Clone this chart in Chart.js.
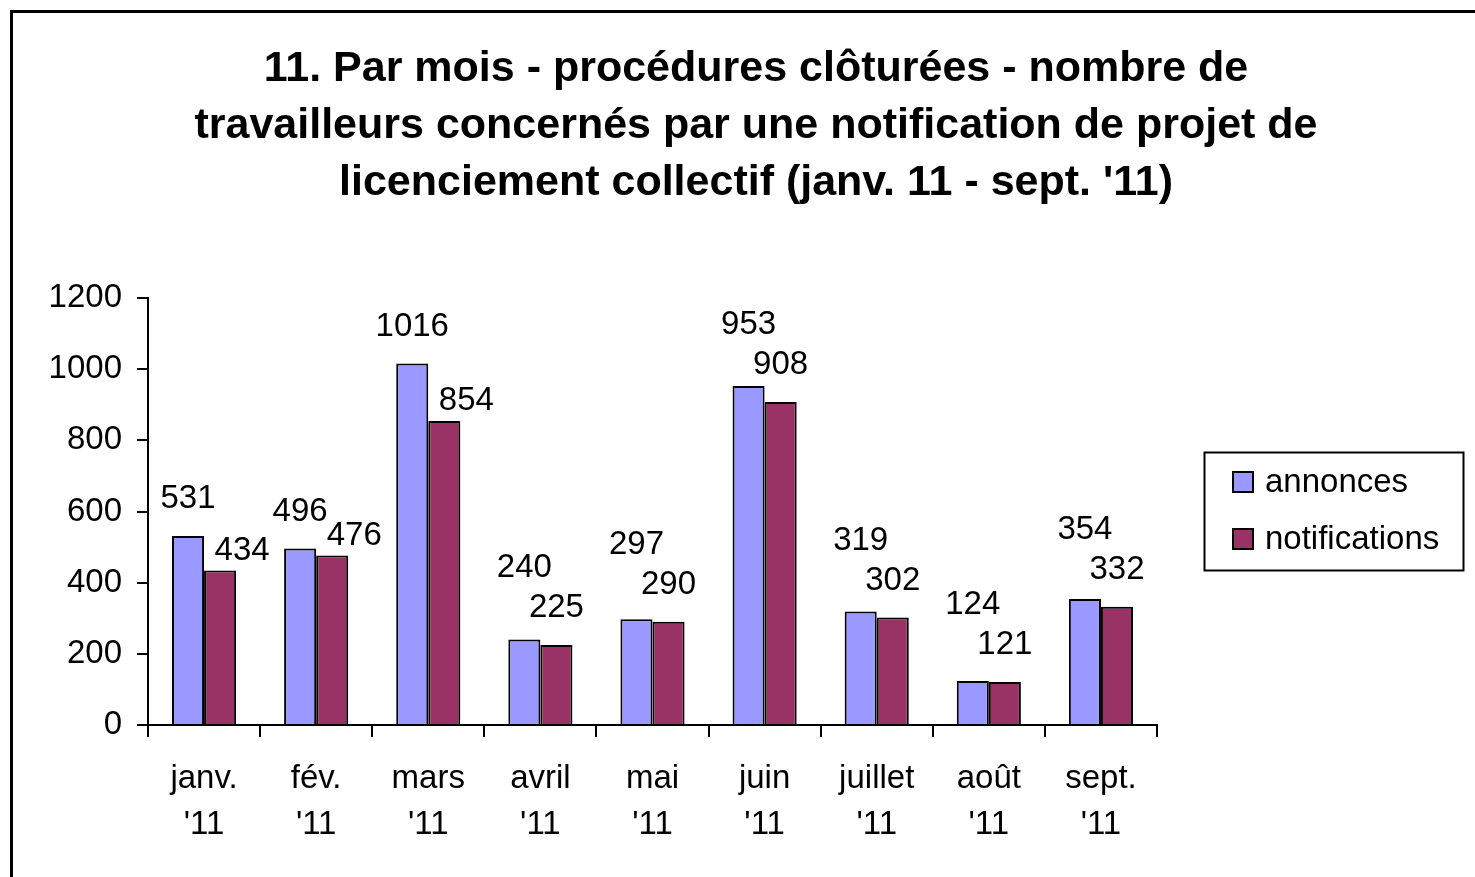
<!DOCTYPE html>
<html>
<head>
<meta charset="utf-8">
<script src="https://cdn.jsdelivr.net/npm/chart.js@4.4.0/dist/chart.umd.min.js"></script>
<style>
  html, body { margin: 0; padding: 0; background: #fff; }
  canvas { display: block; }
</style>
</head>
<body>
<canvas id="c" width="1475" height="877"></canvas>
<script>
const categories = [["janv.", "'11"], ["fév.", "'11"], ["mars", "'11"], ["avril", "'11"], ["mai", "'11"], ["juin", "'11"], ["juillet", "'11"], ["août", "'11"], ["sept.", "'11"]];
const annonces = [531, 496, 1016, 240, 297, 953, 319, 124, 354];
const notifications = [434, 476, 854, 225, 290, 908, 302, 121, 332];
const yTicks = [0, 200, 400, 600, 800, 1000, 1200];
const titleLines = ["11. Par mois - procédures clôturées - nombre de", "travailleurs concernés par une notification de projet de", "licenciement collectif (janv. 11 - sept. '11)"];
// label placement style for the notifications series ('side' = shifted beside the bar)
const notifLabelMode = ['side', 'side', 'side', 'above', 'above', 'above', 'above', 'above', 'above'];

const FONT = "'Liberation Sans', Arial, sans-serif";

const decorPlugin = {
  id: 'decor',
  afterDraw(chart) {
    const ctx = chart.ctx;
    ctx.save();
    // outer frame
    ctx.strokeStyle = '#000';
    ctx.lineWidth = 3;
    ctx.strokeRect(11.5, 11.5, chart.width + 20, chart.height + 20);
    // title
    ctx.fillStyle = '#000';
    ctx.font = "bold 43px " + FONT;
    ctx.textAlign = 'center';
    ctx.textBaseline = 'middle';
    titleLines.forEach((t, i) => ctx.fillText(t, 756, 69 + i * 57));

    // data labels
    ctx.font = "33px " + FONT;
    const m0 = chart.getDatasetMeta(0), m1 = chart.getDatasetMeta(1);
    const ds0 = chart.data.datasets[0].data, ds1 = chart.data.datasets[1].data;
    for (let i = 0; i < ds0.length; i++) {
      const b0 = m0.data[i], b1 = m1.data[i];
      const t0 = String(ds0[i]), t1 = String(ds1[i]);
      let x1, y1;
      const side = notifLabelMode[i] === 'side';
      if (side) { x1 = b1.x + 22; y1 = b1.y - 20; }
      else { x1 = b1.x; y1 = b1.y - 37; }
      let x0 = b0.x, y0 = b0.y - 37;
      const w0 = ctx.measureText(t0).width, w1 = ctx.measureText(t1).width;
      const hOverlap = (x0 + w0 / 2) > (x1 - w1 / 2) && (x0 - w0 / 2) < (x1 + w1 / 2);
      if (!side && hOverlap && Math.abs(y0 - y1) < 38) { y0 = Math.min(y0, y1 - 40); }
      ctx.fillText(t0, x0, y0);
      ctx.fillText(t1, x1, y1);
    }

    // legend
    const lx = 1204, ly = 452, lw = 259, lh = 118;
    ctx.lineWidth = 2;
    ctx.strokeRect(lx + 0.5, ly + 0.5, lw, lh);
    ctx.font = "33px " + FONT;
    ctx.textAlign = 'left';
    chart.data.datasets.forEach((d, k) => {
      const cy = ly + 30 + k * 57;
      ctx.fillStyle = d.backgroundColor;
      ctx.fillRect(lx + 29, cy - 10, 20, 20);
      ctx.strokeStyle = '#000';
      ctx.lineWidth = 2;
      ctx.strokeRect(lx + 29, cy - 10, 20, 20);
      ctx.fillStyle = '#000';
      ctx.fillText(d.label, lx + 61, cy + 1);
    });
    ctx.restore();
  }
};

new Chart(document.getElementById('c'), {
  type: 'bar',
  data: {
    labels: categories,
    datasets: [
      { label: 'annonces', data: annonces, backgroundColor: '#9999FF', borderColor: '#000', borderWidth: 2, borderSkipped: 'bottom' },
      { label: 'notifications', data: notifications, backgroundColor: '#993366', borderColor: '#000', borderWidth: 2, borderSkipped: 'bottom' }
    ]
  },
  options: {
    responsive: false,
    animation: false,
    devicePixelRatio: 1,
    layout: { padding: { left: 0, right: 318, top: 298, bottom: 0 } },
    datasets: { bar: { categoryPercentage: 0.572, barPercentage: 1.0 } },
    plugins: { legend: { display: false }, title: { display: false }, tooltip: { enabled: false } },
    scales: {
      x: {
        offset: true,
        grid: { display: true, offset: true, drawOnChartArea: false, drawTicks: true, tickLength: 12, color: '#000', lineWidth: 2 },
        border: { display: true, color: '#000', width: 2 },
        ticks: { color: '#000', font: { family: FONT, size: 33, lineHeight: 1.42 }, padding: 18, maxRotation: 0, autoSkip: false },
        afterFit(s) { s.height = 152; }
      },
      y: {
        min: 0, max: 1200,
        afterBuildTicks(s) { s.ticks = yTicks.map(v => ({ value: v })); },
        grid: { display: true, drawOnChartArea: false, drawTicks: true, tickLength: 11, color: '#000', lineWidth: 2 },
        border: { display: true, color: '#000', width: 2 },
        ticks: { color: '#000', font: { family: FONT, size: 33 }, padding: 15, callback: v => String(v) },
        afterFit(s) { s.width = 148; }
      }
    }
  },
  plugins: [decorPlugin]
});
</script>
</body>
</html>
